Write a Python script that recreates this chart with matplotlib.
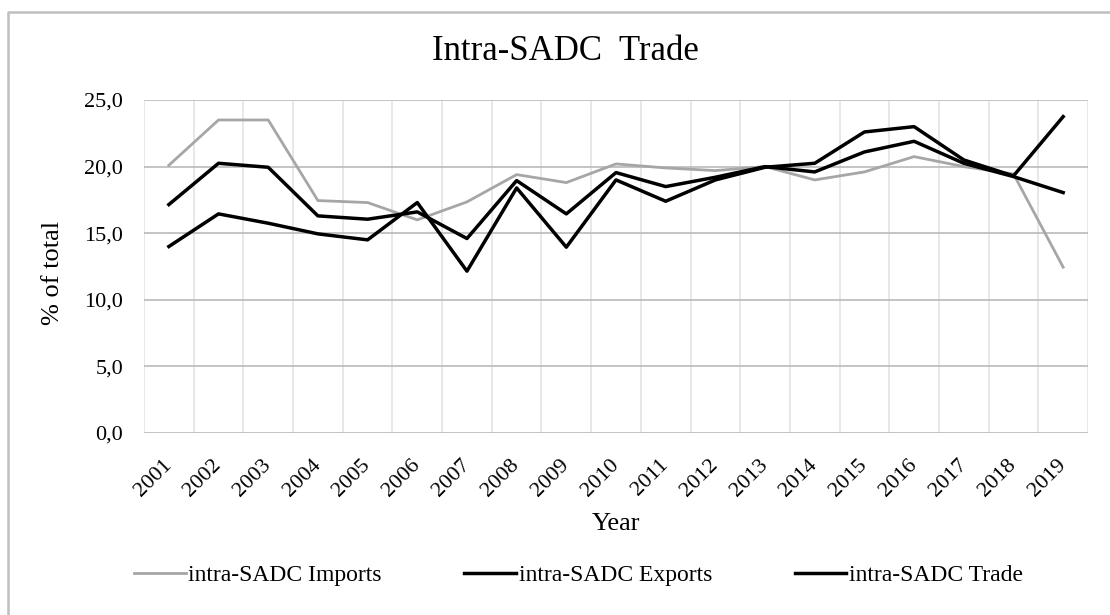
import numpy as np
import matplotlib
matplotlib.use("Agg")
import matplotlib.pyplot as plt
from matplotlib.lines import Line2D

plt.rcParams["font.family"] = ["Liberation Serif", "DejaVu Serif"]

# values (% of total)
years = [str(y) for y in range(2001, 2020)]
imports = [20.1, 23.5, 23.5, 17.45, 17.3, 16.0, 17.35, 19.4, 18.8, 20.2,
           19.9, 19.7, 20.0, 19.0, 19.6, 20.75, 20.0, 19.45, 12.45]
exports = [14.0, 16.45, 15.75, 14.95, 14.5, 17.3, 12.15, 18.4, 13.95, 19.0,
           17.4, 19.0, 19.95, 20.25, 22.6, 23.0, 20.5, 19.3, 23.75]
trade = [17.15, 20.25, 19.95, 16.3, 16.05, 16.6, 14.6, 18.95, 16.45, 19.55,
         18.5, 19.2, 20.0, 19.6, 21.1, 21.9, 20.25, 19.25, 18.05]
y_ticks = [0, 5, 10, 15, 20, 25]

fig = plt.figure(figsize=(11.1, 6.15), dpi=100)
ax = fig.add_axes([144 / 1110, 1 - 433 / 615, 944 / 1110, 333 / 615])

x = np.arange(len(years))
ax.plot(x, imports, color="#a6a6a6", lw=2.0, label="intra-SADC Imports", zorder=3)
ax.plot(x, exports, color="black", lw=2.5, label="intra-SADC Exports", zorder=4)
ax.plot(x, trade, color="black", lw=2.5, label="intra-SADC Trade", zorder=4)

ax.set_xlim(-0.5, len(years) - 0.5)
ax.set_ylim(0, 25)
ax.set_yticks(y_ticks)
ax.set_yticklabels([f"{v:.1f}".replace(".", ",") for v in y_ticks], fontsize=16)
ax.set_xticks(x)
ax.set_xticklabels(years, fontsize=16, rotation=45, ha="right", va="center",
                   rotation_mode="anchor")
ax.set_xticks(np.arange(-0.5, len(years), 1), minor=True)
ax.tick_params(axis="both", which="both", length=0)
ax.tick_params(axis="y", pad=15)
ax.tick_params(axis="x", pad=21)

ax.grid(axis="y", color="#bfbfbf", lw=1.3, zorder=0)
ax.grid(axis="x", which="minor", color="#e6e6e6", lw=1.3, zorder=0)
ax.grid(axis="x", which="major", visible=False)
for s in ax.spines.values():
    s.set_visible(False)

ax.set_ylabel("% of total", fontsize=19)
ax.yaxis.set_label_coords(-0.085, 0.48)
ax.set_xlabel("Year", fontsize=19)
ax.xaxis.set_label_coords(0.5, -0.24)

fig.text(565 / 1110, 1 - 51 / 615, "Intra-SADC  Trade", fontsize=25,
         ha="center", va="center")

fig.legend(loc="center", bbox_to_anchor=(0.521, 0.065), ncol=3, frameon=False,
           fontsize=17, handlelength=2.2, handletextpad=0.1, columnspacing=3.5)

# light frame round the chart (top and left edges only visible)
fig.add_artist(Line2D([8 / 1110, 8 / 1110, 1.0], [0, 1 - 12 / 615, 1 - 12 / 615],
                      transform=fig.transFigure, color="#bfbfbf", lw=1.8))

fig.savefig("out.png", dpi=100)
